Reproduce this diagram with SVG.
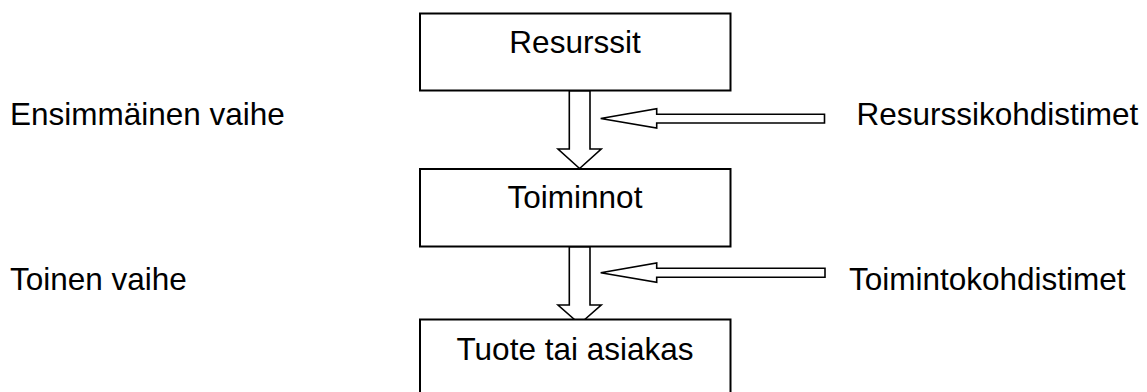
<svg xmlns="http://www.w3.org/2000/svg" width="1147" height="392" viewBox="0 0 1147 392">
  <style>
    .box { fill: #ffffff; stroke: #000000; stroke-width: 2; }
    .arrow { fill: #ffffff; stroke: #000000; stroke-width: 1.6; stroke-linejoin: miter; }
    text { font-family: "Liberation Sans", Arial, sans-serif; font-size: 31.5px; fill: #000000; }
    .c { text-anchor: middle; }
  </style>
  <rect width="1147" height="392" fill="#ffffff"/>

  <!-- block arrows -->
  <g id="connectors">
    <!-- Resurssit -> Toiminnot -->
    <polygon class="arrow" points="569.3,90.7 590,90.7 590,149 601.2,149 579.6,168.5 558,149 569.3,149"/>
    <!-- Toiminnot -> Tuote tai asiakas -->
    <polygon class="arrow" points="569.3,246.7 590,246.7 590,305 601.2,305 579.6,324 558,305 569.3,305"/>
    <!-- Resurssikohdistimet pointer -->
    <polygon class="arrow" points="600.7,118.5 656.7,108.7 656.7,114.3 824.5,114.3 824.5,123 656.7,123 656.7,128"/>
    <!-- Toimintokohdistimet pointer -->
    <polygon class="arrow" points="600.7,272.7 656.7,262.9 656.7,268.3 825,268.3 825,277.2 656.7,277.2 656.7,282.3"/>
  </g>

  <g id="node-resurssit">
    <rect class="box" x="420" y="13.5" width="310.5" height="77"/>
    <text class="c" x="575" y="53">Resurssit</text>
  </g>
  <g id="node-toiminnot">
    <rect class="box" x="420" y="169" width="310.5" height="77.5"/>
    <text class="c" x="575" y="208">Toiminnot</text>
  </g>
  <g id="node-tuote">
    <rect class="box" x="420" y="319.5" width="310.5" height="80"/>
    <text class="c" x="575" y="360">Tuote tai asiakas</text>
  </g>

  <g id="label-ensimmainen">
    <text x="10" y="125">Ensimmäinen vaihe</text>
  </g>
  <g id="label-toinen">
    <text x="10" y="290">Toinen vaihe</text>
  </g>
  <g id="label-resurssikohdistimet">
    <text x="856.5" y="125">Resurssikohdistimet</text>
  </g>
  <g id="label-toimintokohdistimet">
    <text x="849" y="290">Toimintokohdistimet</text>
  </g>
</svg>
